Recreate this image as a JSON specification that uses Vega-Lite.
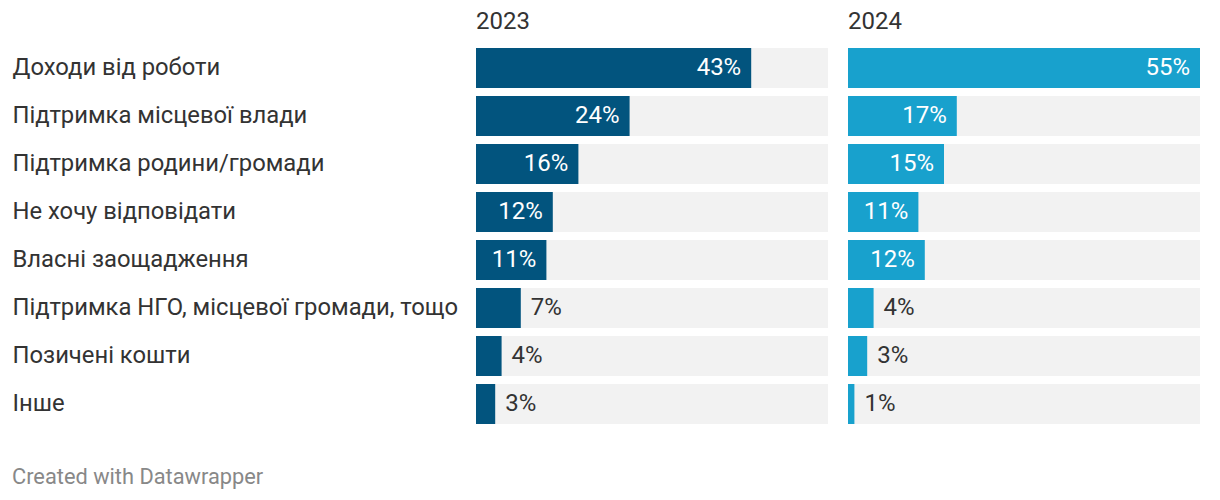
{
  "$schema": "https://vega.github.io/schema/vega-lite/v6.json",
  "padding": {"left": 12, "top": 10, "right": 20, "bottom": 0},
  "background": "white",
  "config": {"font": "Roboto", "view": {"stroke": null}, "concat": {"spacing": 20}},
  "title": {"text": "Created with Datawrapper", "orient": "bottom", "anchor": "start", "fontSize": 21.8, "fontWeight": "normal", "color": "#888888", "offset": 43, "font": "Roboto"},
  "data": {"values": [
    {"cat": "Доходи від роботи", "year": "2023", "value": 0.43},
    {"cat": "Підтримка місцевої влади", "year": "2023", "value": 0.24},
    {"cat": "Підтримка родини/громади", "year": "2023", "value": 0.16},
    {"cat": "Не хочу відповідати", "year": "2023", "value": 0.12},
    {"cat": "Власні заощадження", "year": "2023", "value": 0.11},
    {"cat": "Підтримка НГО, місцевої громади, тощо", "year": "2023", "value": 0.07},
    {"cat": "Позичені кошти", "year": "2023", "value": 0.04},
    {"cat": "Інше", "year": "2023", "value": 0.03},
    {"cat": "Доходи від роботи", "year": "2024", "value": 0.55},
    {"cat": "Підтримка місцевої влади", "year": "2024", "value": 0.17},
    {"cat": "Підтримка родини/громади", "year": "2024", "value": 0.15},
    {"cat": "Не хочу відповідати", "year": "2024", "value": 0.11},
    {"cat": "Власні заощадження", "year": "2024", "value": 0.12},
    {"cat": "Підтримка НГО, місцевої громади, тощо", "year": "2024", "value": 0.04},
    {"cat": "Позичені кошти", "year": "2024", "value": 0.03},
    {"cat": "Інше", "year": "2024", "value": 0.01}
  ]},
  "hconcat": [
    {
      "width": 352, "height": 376,
      "title": {"text": "2023", "anchor": "start", "frame": "group", "fontSize": 24, "fontWeight": "normal", "color": "#333333", "offset": 14},
      "transform": [{"filter": "datum.year == '2023'"}],
      "encoding": {
        "y": {"field": "cat", "type": "nominal",
          "sort": ["Доходи від роботи", "Підтримка місцевої влади", "Підтримка родини/громади", "Не хочу відповідати", "Власні заощадження", "Підтримка НГО, місцевої громади, тощо", "Позичені кошти", "Інше"],
          "scale": {"paddingInner": 0.1667, "paddingOuter": 0},
          "axis": {"title": null, "domain": false, "ticks": false, "tickSize": 0, "labelAlign": "left", "labelPadding": 464, "labelFontSize": 23.8, "labelColor": "#333333", "labelLimit": 470, "labelFont": "Roboto"}}
      },
      "layer": [
        {"mark": {"type": "bar", "color": "#f2f2f2"}, "encoding": {"x": {"datum": 0.55, "type": "quantitative", "scale": {"domain": [0, 0.55]}, "axis": null}}},
        {"mark": {"type": "bar", "color": "#02547e"}, "encoding": {"x": {"field": "value", "type": "quantitative", "scale": {"domain": [0, 0.55]}, "axis": null}}},
        {"transform": [{"filter": "datum.value >= 0.1"}], "mark": {"type": "text", "align": "right", "dx": -10, "color": "white", "fontSize": 24, "baseline": "middle"},
          "encoding": {"x": {"field": "value", "type": "quantitative"}, "text": {"field": "value", "type": "quantitative", "format": ".0%"}}},
        {"transform": [{"filter": "datum.value < 0.1"}], "mark": {"type": "text", "align": "left", "dx": 10, "color": "#333333", "fontSize": 24, "baseline": "middle"},
          "encoding": {"x": {"field": "value", "type": "quantitative"}, "text": {"field": "value", "type": "quantitative", "format": ".0%"}}}
      ]
    },
    {
      "width": 352, "height": 376,
      "title": {"text": "2024", "anchor": "start", "frame": "group", "fontSize": 24, "fontWeight": "normal", "color": "#333333", "offset": 14},
      "transform": [{"filter": "datum.year == '2024'"}],
      "encoding": {
        "y": {"field": "cat", "type": "nominal",
          "sort": ["Доходи від роботи", "Підтримка місцевої влади", "Підтримка родини/громади", "Не хочу відповідати", "Власні заощадження", "Підтримка НГО, місцевої громади, тощо", "Позичені кошти", "Інше"],
          "scale": {"paddingInner": 0.1667, "paddingOuter": 0},
          "axis": null}
      },
      "layer": [
        {"mark": {"type": "bar", "color": "#f2f2f2"}, "encoding": {"x": {"datum": 0.55, "type": "quantitative", "scale": {"domain": [0, 0.55]}, "axis": null}}},
        {"mark": {"type": "bar", "color": "#18a1cd"}, "encoding": {"x": {"field": "value", "type": "quantitative", "scale": {"domain": [0, 0.55]}, "axis": null}}},
        {"transform": [{"filter": "datum.value >= 0.1"}], "mark": {"type": "text", "align": "right", "dx": -10, "color": "white", "fontSize": 24, "baseline": "middle"},
          "encoding": {"x": {"field": "value", "type": "quantitative"}, "text": {"field": "value", "type": "quantitative", "format": ".0%"}}},
        {"transform": [{"filter": "datum.value < 0.1"}], "mark": {"type": "text", "align": "left", "dx": 10, "color": "#333333", "fontSize": 24, "baseline": "middle"},
          "encoding": {"x": {"field": "value", "type": "quantitative"}, "text": {"field": "value", "type": "quantitative", "format": ".0%"}}}
      ]
    }
  ]
}
